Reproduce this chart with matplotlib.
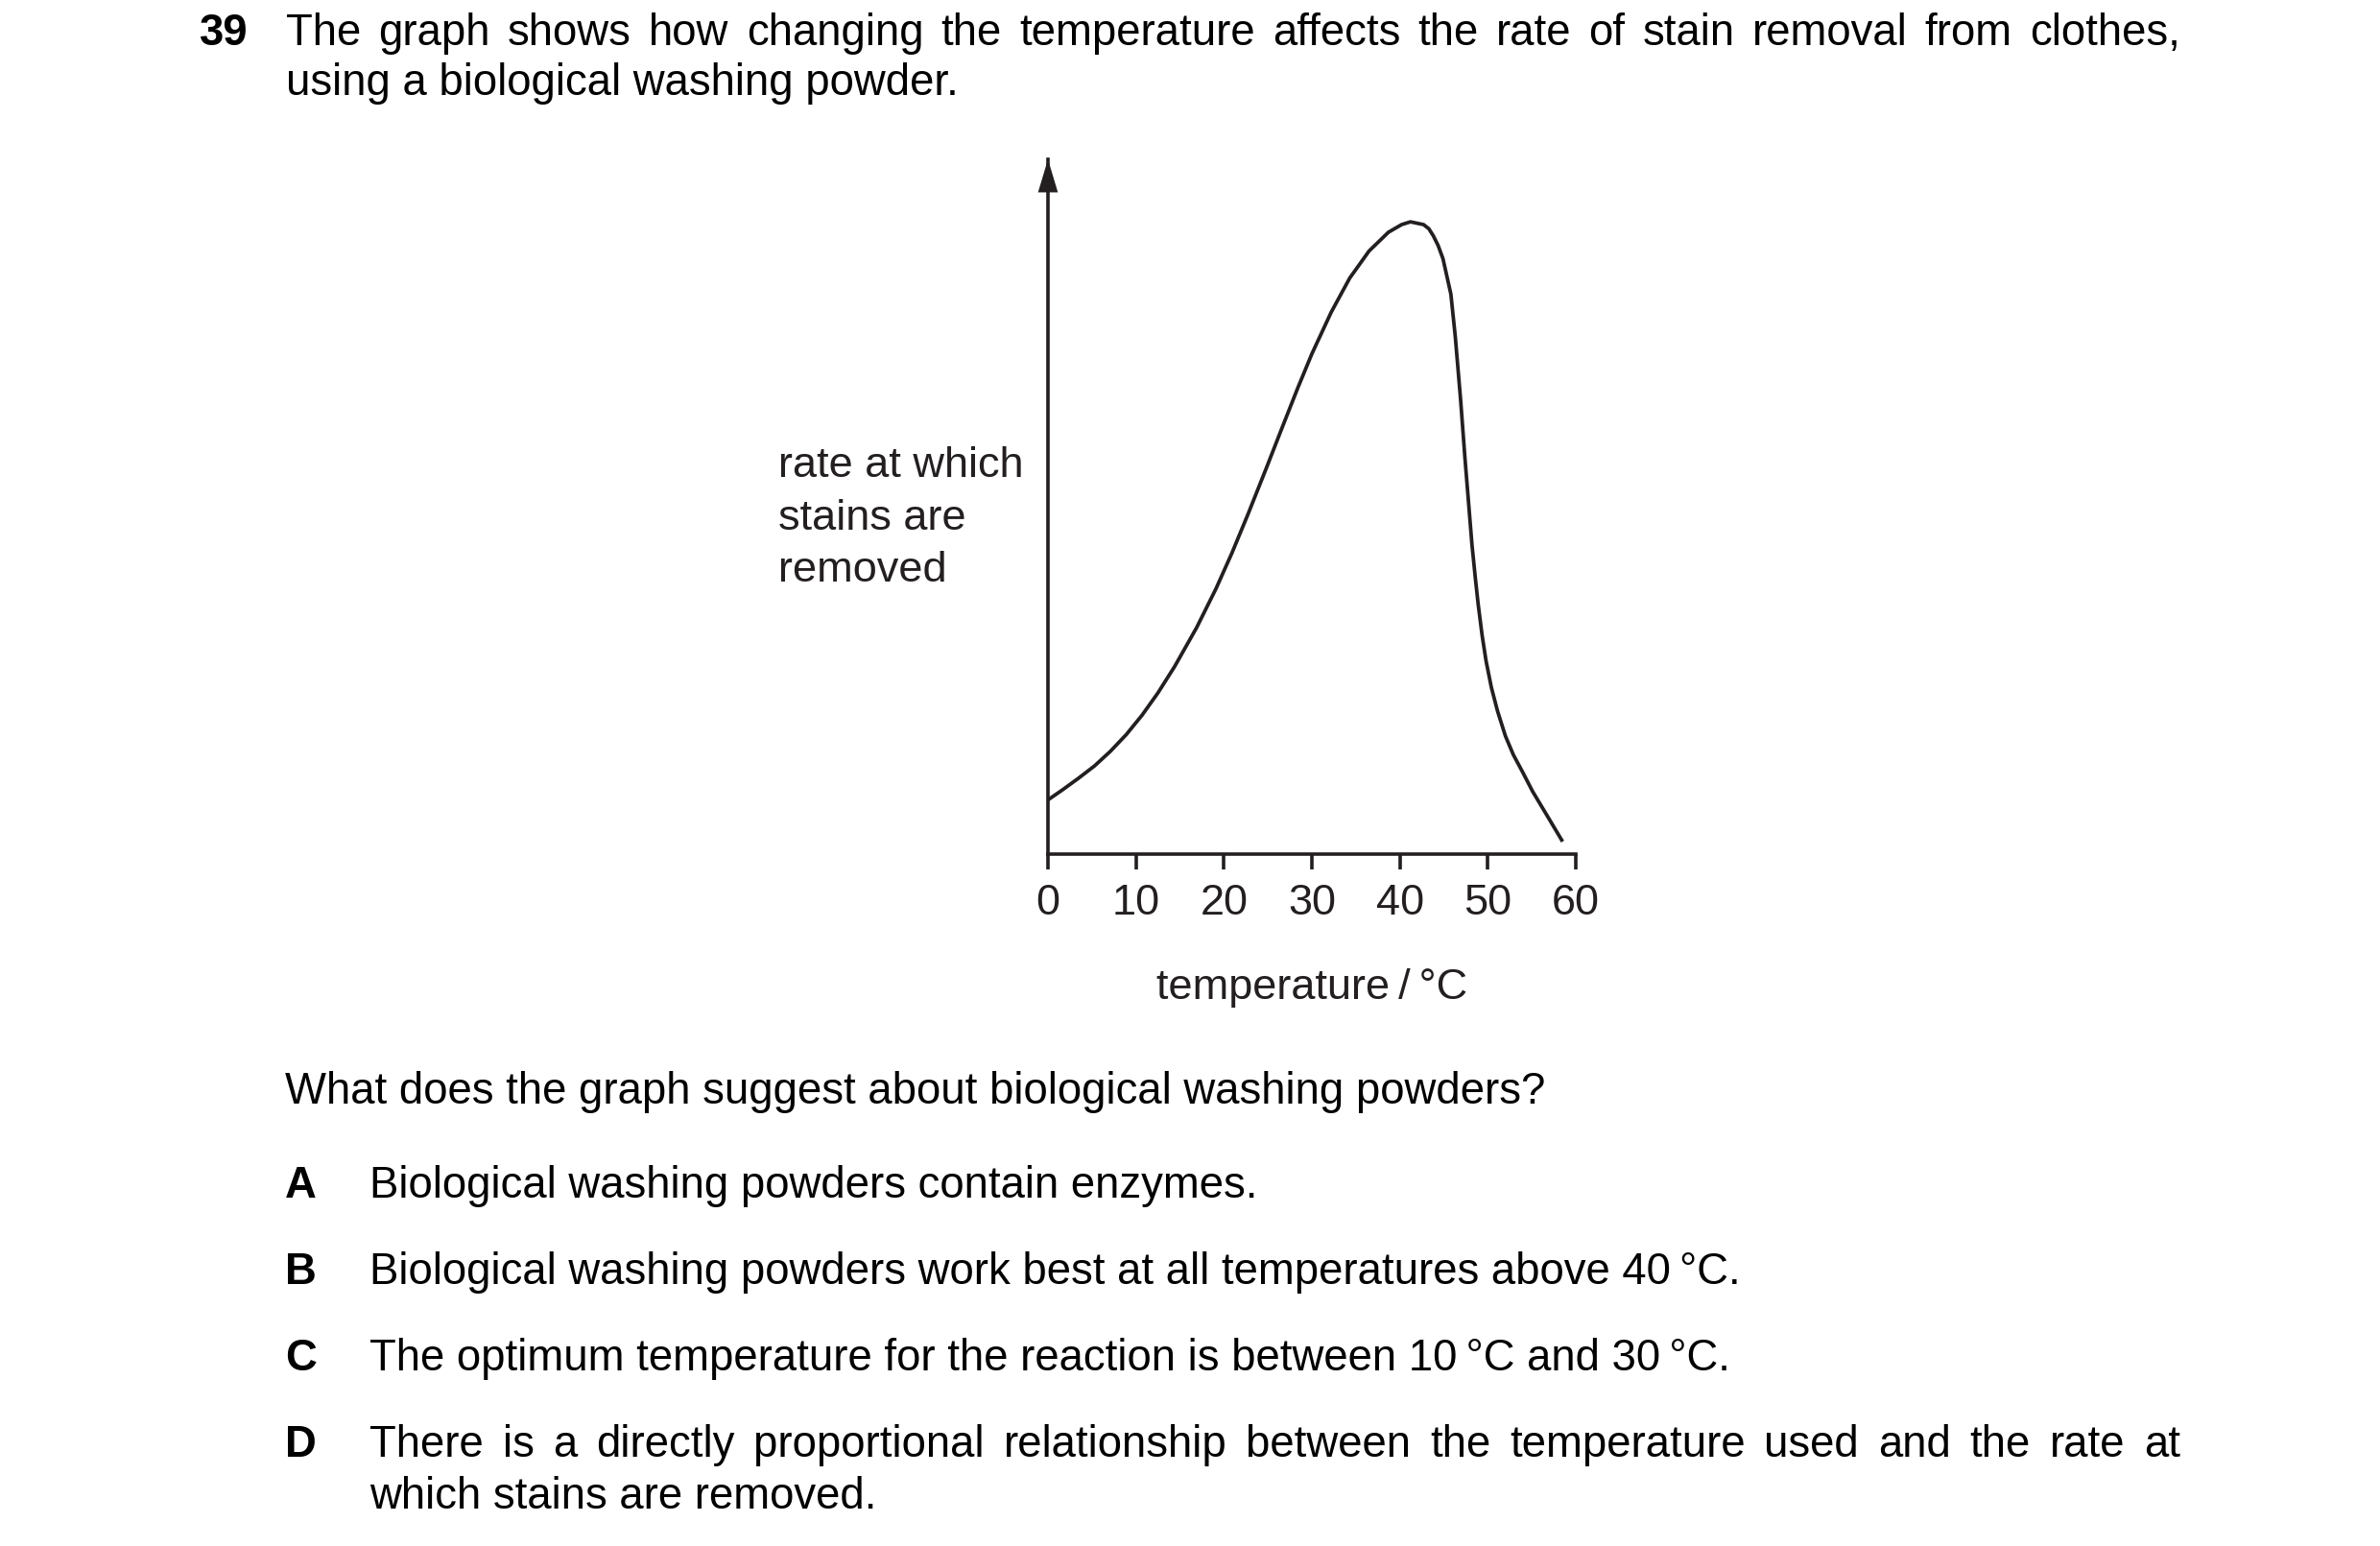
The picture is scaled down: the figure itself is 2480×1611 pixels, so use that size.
import matplotlib
matplotlib.use("Agg")
import matplotlib.pyplot as plt

W, H = 2480, 1611
DPI = 100

# curve: temperature / °C, rate (0-100, top of arrow = 100)
temp = [0, 1.6, 3.45, 5.3, 7.1, 8.9, 10.7, 12.5, 14.4, 16.9, 19.1, 20.9, 22.7,
        24.9, 26.5, 28.4, 30.0, 32.2, 34.3, 36.5, 38.7, 40.2, 41.2, 42.7, 43.3,
        43.8, 44.35, 44.9, 45.8, 46.3, 46.9, 47.4, 48.2, 48.6, 48.9, 49.35, 49.8,
        50.4, 51.1, 52.0, 52.9, 54.0, 55.1, 56.9, 58.5]
rate = [7.8, 9.2, 10.9, 12.7, 14.8, 17.2, 20.0, 23.2, 27.0, 32.6, 38.2, 43.3, 48.8,
        55.8, 61.0, 67.1, 72.0, 78.0, 82.9, 86.8, 89.5, 90.6, 91.0, 90.6, 90.0,
        89.0, 87.6, 85.7, 80.6, 74.5, 65.5, 57.0, 44.5, 39.5, 36.0, 31.5, 27.8,
        24.0, 20.6, 17.0, 14.3, 11.7, 9.0, 5.2, 1.8]
xticks = [0, 10, 20, 30, 40, 50, 60]

ylabel_lines = ["rate at which", "stains are", "removed"]
xlabel = "temperature\u2009/\u2009°C"

q_num = "39"
q_line1 = "The graph shows how changing the temperature affects the rate of stain removal from clothes,"
q_line2 = "using a biological washing powder."
prompt = "What does the graph suggest about biological washing powders?"
opt_keys = ["A", "B", "C", "D"]
opt_text = [
    "Biological washing powders contain enzymes.",
    "Biological washing powders work best at all temperatures above 40\u2009°C.",
    "The optimum temperature for the reaction is between 10\u2009°C and 30\u2009°C.",
    "There is a directly proportional relationship between the temperature used and the rate at",
]
opt_d2 = "which stains are removed."

FONT = ["Liberation Sans", "DejaVu Sans"]
INK = "#231f20"
FS = 32.8
GFS = 32.5

fig = plt.figure(figsize=(W / DPI, H / DPI), dpi=DPI)
fig.patch.set_facecolor("white")


def fx(x):
    return x / W


def fy(y):
    return 1 - y / H


def put(x, y, s, **kw):
    kw.setdefault("fontsize", FS)
    kw.setdefault("color", "black")
    return fig.text(fx(x), fy(y), s, family=FONT, va="baseline", ha="left", **kw)


renderer = fig.canvas.get_renderer()


def justify(line, x0, x1, y):
    # spread the words so the line fills x0..x1, like the printed page
    words = line.split(" ")
    objs = [put(x0, y, w) for w in words]
    widths = [o.get_window_extent(renderer).width for o in objs]
    gap = (x1 - x0 - sum(widths)) / (len(words) - 1)
    x = x0
    for o, w in zip(objs, widths):
        o.set_x(fx(x))
        x += w + gap


# question
RIGHT = 2272
put(208, 47, q_num, fontweight="bold")
justify(q_line1, 298, RIGHT, 47)
put(298, 99, q_line2)

# graph
ax_l, ax_r, ax_b, ax_t = 1092, 1642, 890, 166
ax = fig.add_axes([fx(ax_l), fy(ax_b), (ax_r - ax_l) / W, (ax_b - ax_t) / H])
ax.set_xlim(0, 60)
ax.set_ylim(0, 100)
ax.plot(temp, rate, color=INK, lw=2.7, solid_joinstyle="round", solid_capstyle="butt")
for side in ["top", "right"]:
    ax.spines[side].set_visible(False)
for side in ["left", "bottom"]:
    ax.spines[side].set_linewidth(2.6)
    ax.spines[side].set_color(INK)
ax.set_yticks([])
ax.set_xticks(xticks)
ax.set_xticklabels([str(t) for t in xticks], family=FONT, fontsize=GFS, color=INK)
ax.tick_params(axis="x", direction="out", length=11.5, width=2.6, color=INK, pad=11)
ax.set_facecolor("none")
ax.annotate("", xy=(0, 1), xytext=(0, 0.93), xycoords="axes fraction",
            arrowprops=dict(arrowstyle="-|>,head_length=0.4,head_width=0.12",
                            mutation_scale=62, color=INK, lw=0, shrinkA=0, shrinkB=0))

for i, s in enumerate(ylabel_lines):
    put(811, 497 + i * 54.5, s, fontsize=GFS, color=INK)
fig.text(fx(1367), fy(1041), xlabel, family=FONT, fontsize=GFS, color=INK,
         ha="center", va="baseline")

# options
put(297, 1150, prompt)
opt_y = [1248, 1338, 1428, 1518]
for k, s, y in zip(opt_keys, opt_text, opt_y):
    put(297, y, k, fontweight="bold")
    if k == "D":
        justify(s, 385, RIGHT, y)
    else:
        put(385, y, s)
put(385, 1572, opt_d2)

fig.savefig("out.png", dpi=DPI, facecolor="white")
